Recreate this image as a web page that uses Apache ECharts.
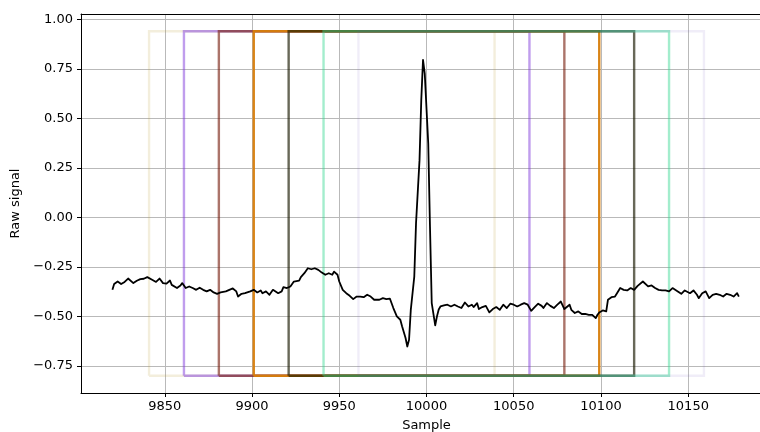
<!DOCTYPE html>
<html>
<head>
<meta charset="utf-8">
<script src="https://cdn.jsdelivr.net/npm/echarts@6/dist/echarts.min.js"></script>
<style>
  html, body { margin: 0; padding: 0; background: #fff; }
  #chart { width: 760px; height: 432px; }
</style>
</head>
<body>
<div id="chart"></div>
<script>
// Raw signal around a single beat (sample index, amplitude)
const sampleIdx = [
  9820, 9821, 9823, 9825, 9827, 9829, 9830, 9832, 9834, 9836, 9838, 9840, 9841, 9843, 9845, 9847, 9849,
  9851, 9853, 9854, 9857, 9859, 9860, 9862, 9864, 9866, 9868, 9870, 9872, 9874, 9876, 9878, 9880,
  9882, 9883, 9885, 9887, 9889, 9891, 9892, 9894, 9896, 9897, 9899, 9901, 9903, 9905, 9906, 9908,
  9910, 9912, 9913, 9915, 9917, 9918, 9920, 9922, 9924, 9925, 9927, 9928, 9930, 9932, 9934, 9936,
  9938, 9940, 9942, 9944, 9946, 9947, 9949, 9950, 9952, 9954, 9956, 9958, 9960, 9962, 9964, 9966,
  9968, 9970, 9971, 9973, 9975, 9977, 9979, 9980, 9981, 9983, 9985, 9986, 9988, 9989, 9990, 9991,
  9993, 9994, 9996, 9997, 9998, 9999, 10001, 10002, 10003, 10005, 10006, 10007, 10008, 10010, 10011,
  10012, 10014, 10016, 10018, 10020, 10022, 10024, 10026, 10027, 10029, 10030, 10032, 10034, 10036,
  10038, 10040, 10042, 10044, 10046, 10048, 10050, 10052, 10054, 10056, 10058, 10060, 10062, 10064,
  10066, 10067, 10069, 10071, 10073, 10075, 10077, 10079, 10080, 10082, 10083, 10085, 10087, 10089,
  10091, 10093, 10095, 10097, 10098, 10099, 10101, 10103, 10104, 10106, 10108, 10109, 10111, 10113,
  10115, 10117, 10119, 10121, 10122, 10124, 10125, 10127, 10129, 10131, 10133, 10135, 10137, 10139,
  10141, 10142, 10144, 10146, 10148, 10149, 10151, 10153, 10155, 10156, 10158, 10160, 10162, 10164,
  10166, 10168, 10170, 10172, 10174, 10176, 10178, 10179
];
const rawSignal = [
  -0.366, -0.337, -0.324, -0.337, -0.326, -0.309, -0.307, -0.332, -0.320, -0.312, -0.310, -0.302, -0.295, -0.316, -0.326, -0.309, -0.332,
  -0.335, -0.319, -0.341, -0.357, -0.344, -0.332, -0.357, -0.349, -0.357, -0.366, -0.355, -0.366, -0.374, -0.366, -0.379, -0.386,
  -0.379, -0.369, -0.374, -0.366, -0.359, -0.374, -0.400, -0.386, -0.383, -0.391, -0.374, -0.366, -0.379, -0.369, -0.383, -0.374,
  -0.391, -0.366, -0.357, -0.383, -0.374, -0.352, -0.357, -0.349, -0.324, -0.316, -0.320, -0.302, -0.282, -0.257, -0.262, -0.257,
  -0.265, -0.279, -0.290, -0.282, -0.290, -0.274, -0.290, -0.324, -0.366, -0.383, -0.396, -0.413, -0.400, -0.400, -0.403, -0.391,
  -0.400, -0.416, -0.408, -0.416, -0.408, -0.413, -0.410, -0.420, -0.458, -0.500, -0.517, -0.550, -0.609, -0.652, -0.618, -0.467,
  -0.299, -0.030, 0.289, 0.592, 0.795, 0.726, 0.373, -0.047, -0.433, -0.545, -0.500, -0.465, -0.450, -0.445, -0.453,
  -0.441, -0.450, -0.441, -0.450, -0.458, -0.430, -0.450, -0.441, -0.453, -0.433, -0.463, -0.453, -0.447, -0.480,
  -0.463, -0.453, -0.467, -0.441, -0.458, -0.436, -0.441, -0.450, -0.441, -0.433, -0.441, -0.472, -0.453, -0.436,
  -0.447, -0.458, -0.433, -0.447, -0.458, -0.441, -0.425, -0.463, -0.453, -0.441, -0.467, -0.483, -0.475, -0.488,
  -0.488, -0.492, -0.492, -0.509, -0.492, -0.480, -0.470, -0.475, -0.416, -0.403, -0.400, -0.386, -0.357, -0.366,
  -0.369, -0.357, -0.366, -0.346, -0.340, -0.324, -0.332, -0.349, -0.344, -0.357, -0.366, -0.369, -0.369, -0.374,
  -0.357, -0.357, -0.374, -0.386, -0.369, -0.379, -0.383, -0.369, -0.391, -0.408, -0.383, -0.374, -0.408, -0.391,
  -0.386, -0.391, -0.400, -0.386, -0.391, -0.400, -0.383, -0.400
];

// Sliding windows: start/end sample and vertical span of each box
const windowStart = [9841, 9861, 9881, 9901, 9921, 9941, 9961];
const windowEnd   = [10039, 10059, 10079, 10099, 10119, 10139, 10159];
const windowLow = -0.8;
const windowHigh = 0.94;

// Tick positions
const xTicks = [9850, 9900, 9950, 10000, 10050, 10100, 10150];
const yTicks = [-0.75, -0.5, -0.25, 0, 0.25, 0.5, 0.75, 1.0];

// Box outline colours (drawn translucent, in order)
const windowColors = [
  'rgba(190,160,60,0.18)',
  'rgba(130,60,220,0.5)',
  'rgba(120,30,15,0.62)',
  'rgba(215,125,10,0.95)',
  'rgba(26,26,2,0.66)',
  'rgba(50,215,145,0.45)',
  'rgba(110,80,190,0.10)'
];

const FONT = 'DejaVu Sans';
const fmtTick = v => v.toFixed(2).replace('-', '\u2212');

const series = windowStart.map((x0, i) => {
  const x1 = windowEnd[i];
  return {
    type: 'line',
    data: [[x0, windowLow], [x1, windowLow], [x1, windowHigh], [x0, windowHigh], [x0, windowLow]],
    showSymbol: false,
    silent: true,
    z: 2,
    lineStyle: { color: windowColors[i], width: 2.4, join: 'miter' }
  };
});

series.push({
  type: 'line',
  data: sampleIdx.map((x, i) => [x, rawSignal[i]]),
  showSymbol: false,
  silent: true,
  z: 5,
  lineStyle: { color: '#000', width: 1.8, join: 'round' }
});

const chart = echarts.init(document.getElementById('chart'), null, { renderer: 'canvas' });
chart.setOption({
  animation: false,
  backgroundColor: '#fff',
  textStyle: { fontFamily: FONT },
  grid: { left: 81, right: -12, top: 14, bottom: 39, containLabel: false, outerBoundsMode: 'none' },
  xAxis: [
    {
      type: 'value',
      min: 9802,
      max: 10198,
      minInterval: 50,
      maxInterval: 50,
      name: 'Sample',
      nameLocation: 'middle',
      nameGap: 26,
      nameTextStyle: { color: '#000', fontSize: 13, fontFamily: FONT },
      axisLine: { onZero: false, lineStyle: { color: '#000', width: 1 } },
      axisTick: { show: true, length: 4, customValues: xTicks, lineStyle: { color: '#000', width: 1 } },
      axisLabel: {
        color: '#000', fontSize: 13, fontFamily: FONT, margin: 7,
        customValues: xTicks,
        formatter: v => String(v)
      },
      splitLine: { show: true, lineStyle: { color: '#b9b9b9', width: 1 } }
    },
    {
      type: 'value',
      position: 'top',
      min: 9802,
      max: 10198,
      axisLine: { onZero: false, lineStyle: { color: '#000', width: 1 } },
      axisTick: { show: false },
      axisLabel: { show: false },
      splitLine: { show: false }
    }
  ],
  yAxis: {
    type: 'value',
    min: -0.887,
    max: 1.027,
    minInterval: 0.25,
    maxInterval: 0.25,
    name: 'Raw signal',
    nameLocation: 'middle',
    nameGap: 52,
    nameTextStyle: { color: '#000', fontSize: 13, fontFamily: FONT },
    axisLine: { show: true, onZero: false, lineStyle: { color: '#000', width: 1 } },
    axisTick: { show: true, length: 4, customValues: yTicks, lineStyle: { color: '#000', width: 1 } },
    axisLabel: {
      color: '#000', fontSize: 13, fontFamily: FONT, margin: 8,
      customValues: yTicks,
      formatter: fmtTick
    },
    splitLine: { show: true, lineStyle: { color: '#b9b9b9', width: 1 } }
  },
  series: series
});
</script>
</body>
</html>
